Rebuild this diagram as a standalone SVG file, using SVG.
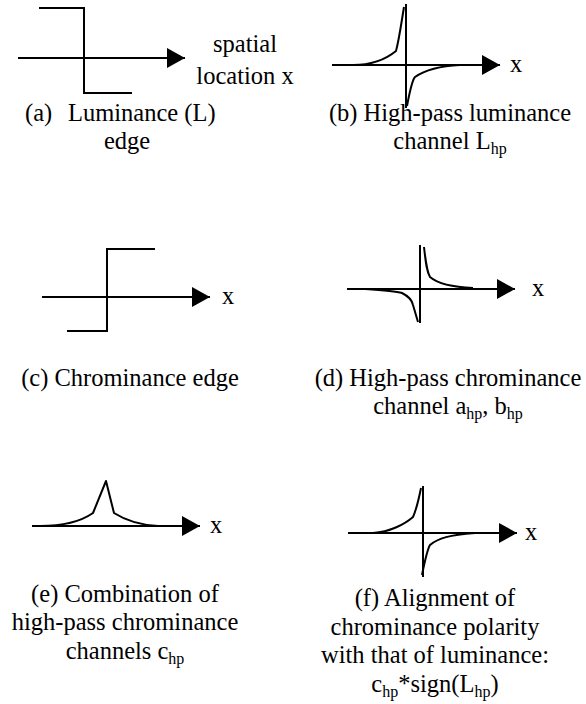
<svg xmlns="http://www.w3.org/2000/svg" width="586" height="704" viewBox="0 0 586 704">
<defs>
<marker id="arr" markerUnits="userSpaceOnUse" markerWidth="20" markerHeight="22" refX="18" refY="10" orient="auto">
<path d="M0,0 L18,10 L0,20 Z" fill="#000"/>
</marker>
</defs>
<style>
.ax{stroke:#000;stroke-width:2;fill:none}
.cv{stroke:#000;stroke-width:2;fill:none;stroke-linejoin:round}
text{font-family:"Liberation Serif","Times New Roman",serif;font-size:24.5px;fill:#000}
.m{text-anchor:middle}
.s{font-size:16px}
</style>
<rect width="586" height="704" fill="#fff"/>
<g id="panel-a">
<line class="ax" x1="18" y1="58" x2="185" y2="58" marker-end="url(#arr)"/>
<polyline class="ax" points="39,8 84,8 84,93 132,93"/>
<text class="m" x="245" y="52">spatial</text>
<text class="m" x="245" y="84">location x</text>
<text x="25" y="121">(a)</text>
<text x="68" y="121">Luminance (L)</text>
<text class="m" x="127" y="149">edge</text>
</g>
<g id="panel-b">
<line class="ax" x1="332" y1="65" x2="500" y2="65" marker-end="url(#arr)"/>
<line class="ax" x1="406" y1="4" x2="406" y2="108"/>
<path class="cv" d="M353,65 C370,65 385,60 396,51 C399,40 401,25 404,7"/>
<path class="cv" d="M407,106 C410,90 412,80 415,77 C425,70 440,66 460,65"/>
<text x="510" y="72">x</text>
<text class="m" x="450" y="121">(b) High-pass luminance</text>
<text class="m" x="450" y="149">channel L<tspan class="s" dy="5">hp</tspan></text>
</g>
<g id="panel-c">
<line class="ax" x1="42" y1="297" x2="210" y2="297" marker-end="url(#arr)"/>
<polyline class="ax" points="155,249 107,249 107,331 67,331"/>
<text x="222" y="304">x</text>
<text class="m" x="130" y="386">(c) Chrominance edge</text>
</g>
<g id="panel-d">
<line class="ax" x1="347" y1="289" x2="515" y2="289" marker-end="url(#arr)"/>
<line class="ax" x1="420" y1="245" x2="420" y2="323"/>
<path class="cv" d="M424,247 C426,265 427,272 430,277 C437,283 450,287 473,288"/>
<path class="cv" d="M365,289 C380,290 395,291 402,293 C408,296 412,300 413,305 L418,322"/>
<text x="532" y="296">x</text>
<text class="m" x="448" y="386">(d) High-pass chrominance</text>
<text class="m" x="448" y="414">channel a<tspan class="s" dy="5">hp</tspan><tspan dy="-5">, b</tspan><tspan class="s" dy="5">hp</tspan></text>
</g>
<g id="panel-e">
<line class="ax" x1="32" y1="526" x2="200" y2="526" marker-end="url(#arr)"/>
<path class="cv" d="M40,526 C60,526 80,522 93,513 L106,481 L114,513 C125,520 140,525 158,526"/>
<text x="210" y="533">x</text>
<text class="m" x="125" y="602">(e) Combination of</text>
<text class="m" x="125" y="630">high-pass chrominance</text>
<text class="m" x="125" y="659">channels c<tspan class="s" dy="5">hp</tspan></text>
</g>
<g id="panel-f">
<line class="ax" x1="348" y1="533" x2="517" y2="533" marker-end="url(#arr)"/>
<line class="ax" x1="423" y1="486" x2="423" y2="577"/>
<path class="cv" d="M373,533 C390,532 405,524 413,517 C417,508 419,498 421,488"/>
<path class="cv" d="M422,575 C425,560 427,550 430,545 C438,538 450,535 475,533"/>
<text x="525" y="540">x</text>
<text class="m" x="435" y="606">(f) Alignment of</text>
<text class="m" x="435" y="635">chrominance polarity</text>
<text class="m" x="435" y="663">with that of luminance:</text>
<text class="m" x="435" y="692">c<tspan class="s" dy="5">hp</tspan><tspan dy="-5">*sign(L</tspan><tspan class="s" dy="5">hp</tspan><tspan dy="-5">)</tspan></text>
</g>
</svg>
